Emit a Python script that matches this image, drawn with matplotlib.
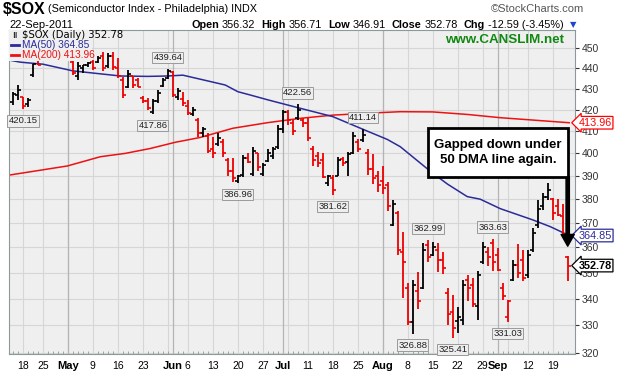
import numpy as np
import matplotlib.pyplot as plt
from matplotlib.patches import Rectangle

# trading-day index, 0 = 18-Apr-2011, last bar 22-Sep-2011
idx = list(range(-2, 110))
opens = [423.5, 427.0, 426.0, 422.5, 436.5, 446.0, 444.0, 446.0, 449.0, 451.0,
         450.0, 452.0, 443.0, 436.0, 440.0, 441.5, 443.0, 443.0, 446.0, 441.0,
         446.0, 440.0, 434.0, 431.0, 436.0, 434.0, 425.5, 424.0, 419.0, 424.0,
         431.5, 435.0, 438.0, 426.0, 425.0, 422.0, 418.0, 415.0, 409.0, 408.0,
         402.0, 404.0, 405.0, 397.0, 392.0, 388.0, 390.5, 398.0, 391.0, 400.0,
         391.0, 396.5, 399.0, 403.0, 411.0, 419.0, 414.0, 416.0, 415.0, 414.0,
         402.0, 399.0, 397.0, 387.0, 389.0, 390.0, 397.5, 396.0, 400.0, 405.0,
         406.0, 400.0, 393.0, 390.0, 388.0, 386.0, 369.0, 374.0, 358.0, 344.0,
         331.0, 343.0, 344.0, 361.0, 357.0, 359.0, 355.0, 342.0, 335.0, 331.5,
         332.0, 347.0, 345.0, 337.0, 354.0, 358.0, 362.0, 357.0, 344.0, 333.0,
         347.0, 353.0, 355.0, 349.0, 359.0, 369.0, 377.0, 381.0, 380.0, 377.0,
         373.0, 356.32]
highs = [428.5, 431.8, 426.1, 425.6, 442.3, 447.5, 447.0, 450.0, 452.0, 453.0,
         452.0, 455.0, 443.6, 443.0, 441.6, 443.0, 444.0, 446.0, 447.9, 447.5,
         447.9, 445.0, 435.7, 439.1, 436.1, 435.2, 426.7, 425.7, 425.2, 429.4,
         435.2, 439.64, 438.5, 430.4, 428.5, 424.7, 421.4, 416.3, 412.2, 409.4,
         407.2, 409.4, 406.3, 398.0, 398.0, 390.4, 399.3, 400.0, 402.9, 400.2,
         395.8, 401.8, 402.8, 412.7, 420.0, 420.0, 415.4, 422.56, 416.3, 416.3,
         403.1, 400.6, 400.0, 390.4, 390.4, 398.6, 398.6, 400.4, 409.7, 406.3,
         411.14, 401.8, 399.5, 392.0, 394.2, 387.2, 379.7, 374.9, 366.4, 345.9,
         347.1, 350.2, 361.7, 362.99, 362.2, 361.8, 358.0, 344.1, 341.2, 336.7,
         347.1, 348.9, 347.9, 350.6, 362.2, 360.2, 363.63, 359.8, 346.0, 339.4,
         354.8, 361.4, 359.0, 359.0, 368.0, 379.7, 382.6, 387.0, 380.5, 380.0,
         377.8, 356.71]
lows = [422.3, 424.8, 420.15, 421.3, 435.8, 441.6, 443.8, 445.0, 447.0, 448.0,
        447.0, 446.0, 436.6, 434.2, 437.6, 440.6, 439.0, 442.6, 438.5, 440.0,
        439.1, 435.2, 425.6, 430.4, 430.4, 430.9, 423.3, 420.0, 417.86, 423.3,
        431.0, 434.5, 426.1, 424.7, 421.6, 417.5, 416.9, 407.6, 407.2, 400.2,
        398.0, 403.1, 398.4, 390.2, 387.4, 386.96, 389.6, 395.5, 389.8, 392.0,
        389.8, 396.0, 397.3, 402.0, 409.4, 413.1, 408.5, 415.4, 412.2, 405.4,
        394.2, 393.8, 389.3, 385.5, 381.62, 389.8, 394.5, 389.8, 399.5, 400.4,
        405.3, 390.4, 386.4, 383.0, 382.1, 375.0, 368.6, 357.0, 340.2, 330.1,
        326.88, 336.1, 343.5, 354.0, 356.4, 350.2, 349.5, 330.0, 325.41, 327.2,
        330.0, 339.1, 336.7, 331.9, 353.6, 352.8, 350.5, 350.5, 339.4, 331.03,
        346.8, 347.9, 346.8, 347.9, 358.2, 368.0, 375.5, 379.7, 371.3, 372.9,
        365.0, 346.91]
closes = [427.5, 429.5, 422.0, 424.5, 442.0, 441.8, 445.5, 449.0, 451.0, 450.0,
          451.0, 447.0, 437.5, 441.0, 441.5, 442.5, 440.0, 445.0, 440.0, 446.0,
          440.5, 436.0, 427.0, 437.0, 432.0, 431.0, 424.0, 421.0, 424.0, 428.0,
          434.0, 438.5, 427.0, 429.0, 423.0, 418.5, 420.0, 409.0, 411.0, 401.0,
          400.0, 407.0, 400.0, 392.0, 389.0, 390.0, 398.0, 396.0, 401.0, 394.0,
          395.0, 400.0, 402.0, 411.0, 419.0, 415.0, 410.0, 420.0, 414.0, 407.0,
          397.0, 395.5, 389.6, 390.0, 384.0, 397.0, 395.5, 399.5, 408.0, 402.0,
          408.5, 393.0, 389.0, 386.0, 385.0, 377.0, 378.0, 359.0, 354.0, 331.0,
          345.0, 339.0, 359.0, 356.0, 360.0, 355.0, 352.0, 334.0, 329.0, 333.0,
          345.0, 344.0, 338.0, 349.0, 360.0, 356.0, 354.0, 351.0, 341.0, 339.0,
          353.0, 350.0, 348.0, 357.0, 366.0, 376.0, 381.0, 384.0, 374.0, 373.5,
          365.37, 352.78]

ma50_x = [-2.7, -0.5, 4, 10, 19.5, 25, 29, 32, 37.5, 40.5, 43, 45.5, 49, 55.5,
          62, 69, 72.9, 75.5, 82, 85, 88.9, 91.5, 95.5, 102, 105.5, 109.3]
ma50 = [444.0, 443.0, 442.0, 438.7, 436.2, 436.0, 436.2, 436.6, 433.5, 431.8,
        428.6, 427.0, 424.7, 420.7, 416.8, 410.0, 406.3, 403.0, 391.2, 386.4,
        381.1, 380.0, 376.0, 371.3, 368.5, 364.85]
ma200_x = [-2.7, 8.9, 15.5, 20.5, 25.5, 30.5, 35.5, 42, 49, 55.5, 62, 69, 75.5,
           82, 89, 95.5, 102, 109.3]
ma200 = [390.4, 394.4, 398.5, 400.0, 402.2, 405.0, 407.2, 411.4, 414.0, 416.0,
         417.5, 418.4, 419.1, 419.0, 417.8, 416.3, 415.2, 413.96]

tick_pos = [0, 4, 9, 14, 19, 24, 30, 33, 38, 43, 48, 52, 57, 62, 67, 72, 77, 82,
            87, 92, 95, 101, 106]
tick_lab = ['18', '25', 'May', '9', '16', '23', 'Jun', '6', '13', '20', '27', 'Jul',
            '11', '18', '25', 'Aug', '8', '15', '22', '29', 'Sep', '12', '19']
week_lines = [0, 4, 9, 14, 19, 24, 29, 33, 38, 43, 48, 53, 57, 62, 67, 72, 77, 82,
              87, 92, 97, 101, 106]
month_lines = [9, 30, 52, 72, 95]
price_ticks = list(range(320, 451, 10))

peak_labels = [(0, 'low'), (29, 'high'), (26, 'low'), (43, 'low'), (55, 'high'),
               (62, 'low'), (68, 'high'), (78, 'low'), (81, 'high'), (86, 'low'),
               (94, 'high'), (97, 'low'), (105, 'high')]

W, H = 619, 378
font = 'Liberation Sans'
bg = '#efefef'


def fx(x):
    return x / W


def fy(y):
    return 1 - y / H


fig = plt.figure(figsize=(W / 100, H / 100), dpi=100)
ax = fig.add_axes([fx(9.3), fy(354), fx(575) - fx(9.3), fy(29.5) - fy(354)])
ax.set_facecolor(bg)
ax.set_yscale('log')
ax.set_xlim(-2.72, 110.46)
ax.set_ylim(319.53, 459.5)

for p in price_ticks:
    ax.axhline(p, color='#d6d6d6', lw=0.8, zorder=0)
for w in week_lines:
    ax.axvline(w, color='#d6d6d6', lw=0.8, zorder=0)
for m in month_lines:
    ax.axvline(m, color='#b4b4b4', lw=0.9, zorder=0)

ax.plot(ma200_x, ma200, color='#ee1111', lw=1.1, zorder=2)
ax.plot(ma50_x, ma50, color='#2b2b99', lw=1.1, zorder=2)

x = np.array(idx)
colors = ['black'] + ['black' if closes[i] >= closes[i - 1] else '#ee0000'
                      for i in range(1, len(closes))]
ax.vlines(x, lows, highs, colors=colors, lw=1.3, zorder=3)
ax.hlines(opens, x - 0.6, x, colors=colors, lw=1.2, zorder=3)
ax.hlines(closes, x, x + 0.6, colors=colors, lw=1.2, zorder=3)

for i, kind in peak_labels:
    k = idx.index(i)
    v = highs[k] if kind == 'high' else lows[k]
    off = 5 if kind == 'high' else -5
    ax.annotate(f'{v:.2f}', xy=(i, v), xytext=(0, off), textcoords='offset points',
                ha='center', va='bottom' if kind == 'high' else 'top',
                fontsize=6.8, family=font, color='#222222', zorder=4,
                bbox=dict(boxstyle='square,pad=0.12', fc='#eeeeee', ec='#9a9a9a', lw=0.7))

# legend block
ax.add_patch(Rectangle((0, 0.902), 0.147, 0.098, transform=ax.transAxes,
                       fc=bg, ec='none', zorder=5))
fig.text(fx(12), fy(35), 'ıı', fontsize=7, color='black', va='center', zorder=6)
fig.text(fx(22), fy(35), '$SOX (Daily) 352.78', fontsize=7.2, family='DejaVu Sans',
         va='center', zorder=6)
fig.add_artist(plt.Line2D([fx(11), fx(19)], [fy(45), fy(45)], color='#2b2b99', lw=2))
fig.text(fx(22), fy(45), 'MA(50) 364.85', fontsize=7.3, family=font, color='#2b2b99',
         va='center', zorder=6)
fig.add_artist(plt.Line2D([fx(11), fx(19)], [fy(55), fy(55)], color='#ee1111', lw=2))
fig.text(fx(22), fy(55), 'MA(200) 413.96', fontsize=7.3, family=font, color='#ee1111',
         va='center', zorder=6)

fig.text(fx(505), fy(40), 'www.CANSLIM.net', fontsize=9.6, family=font,
         weight='bold', color='#118811', va='center', ha='center')

# axes styling
ax.yaxis.tick_right()
ax.set_yticks(price_ticks)
ax.set_yticklabels([str(p) for p in price_ticks])
ax.yaxis.set_minor_locator(plt.NullLocator())
ax.tick_params(axis='y', length=3, pad=2, labelsize=7.5, colors='#333333')
ax.set_xticks(tick_pos)
ax.set_xticklabels(tick_lab)
ax.set_xticks(idx, minor=True)
ax.tick_params(axis='x', which='major', length=0, pad=5, labelsize=7.5)
ax.tick_params(axis='x', which='minor', length=2, direction='in', color='#999999')
for lab in ax.get_xticklabels() + ax.get_yticklabels():
    lab.set_family(font)
for lab, t in zip(ax.get_xticklabels(), tick_lab):
    if t.isalpha():
        lab.set_fontweight('bold')
        lab.set_fontsize(8)
for s in ax.spines.values():
    s.set_color('#8a9a9a')
    s.set_linewidth(0.8)

# right side value tags
tags = [(413.96, 'red', 'red', 'normal'), (364.85, '#2b2b99', '#2b2b99', 'normal'),
        (352.78, 'black', 'black', 'bold')]
for v, tc, ec, wt in tags:
    ax.text(1.006, v, f'{v:.2f}', transform=ax.get_yaxis_transform(), va='center',
            ha='left', fontsize=7.8, family=font, color=tc, weight=wt, clip_on=False,
            zorder=7, bbox=dict(boxstyle='larrow,pad=0.12', fc='white', ec=ec, lw=0.9))

# header
fig.text(fx(3), fy(9), '$SOX', fontsize=11.5, family=font, weight='bold', va='center')
fig.text(fx(48), fy(9), '(Semiconductor Index - Philadelphia) INDX', fontsize=7.8,
         family=font, va='center')
fig.text(fx(584), fy(9), '©StockCharts.com', fontsize=8, family=font,
         color='#555555', va='center', ha='right')
fig.text(fx(9), fy(25), '22-Sep-2011', fontsize=8, family=font, va='center')
row = [('Open', 'bold'), ('356.32', 'normal'), ('High', 'bold'), ('356.71', 'normal'),
       ('Low', 'bold'), ('346.91', 'normal'), ('Close', 'bold'), ('352.78', 'normal'),
       ('Chg', 'bold'), ('-12.59 (-3.45%)', 'normal')]
renderer = fig.canvas.get_renderer()
cur = 191
for i, (s, wt) in enumerate(row):
    t = fig.text(fx(cur), fy(25), s, fontsize=7.8, family=font, weight=wt, va='center')
    w = t.get_window_extent(renderer).width
    cur += w + (3 if wt == 'bold' else 6)
fig.text(fx(cur + 3), fy(25), '▼', fontsize=6, color='#2244cc', va='center', ha='center')

# callout
fig.add_artist(Rectangle((fx(428), fy(177)), fx(568) - fx(428), fy(128) - fy(177),
                         transform=fig.transFigure, fc='white', ec='black', lw=2,
                         zorder=10))
fig.text(fx(498), fy(152.5), 'Gapped down under\n50 DMA line again.', fontsize=9.5,
         family=font, weight='bold', ha='center', va='center', linespacing=1.25,
         zorder=11)
ax.annotate('', xy=(109, 360.5), xytext=(109, 389.6),
            arrowprops=dict(facecolor='black', edgecolor='black', width=2.4,
                            headwidth=9.5, headlength=8.5, shrink=0),
            zorder=9, annotation_clip=False)

fig.savefig('out.png', dpi=100)
